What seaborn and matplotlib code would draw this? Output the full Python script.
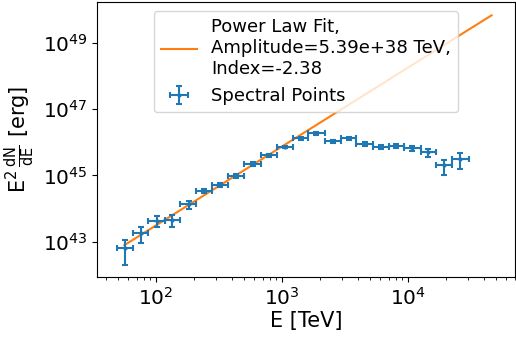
import seaborn as sns
import matplotlib.pyplot as plt
import pandas as pd
import numpy as np

# spectral points
energy = [56.6, 75.6, 101, 135, 181, 241, 323, 433, 583, 782, 1062, 1412,
          1877, 2528, 3390, 4540, 6110, 8070, 10820, 14500, 19300, 25900]
bin_edges = [49, 65.5, 87, 117, 156, 209, 279, 372, 500, 675, 910, 1230,
             1620, 2190, 2950, 3890, 5250, 7080, 9330, 12600, 16600, 22400, 30200]
e2dnde = [6.6e42, 1.78e43, 4.3e43, 4.5e43, 1.33e44, 3.4e44, 5.1e44, 9.8e44,
          2.2e45, 4.1e45, 7.3e45, 1.3e46, 1.85e46, 1.08e46, 1.3e46, 8.7e45,
          7.3e45, 7.8e45, 6.5e45, 4.9e45, 2.0e45, 3.1e45]
e2dnde_err = [4.6e42, 9e42, 1.5e43, 1.7e43, 3.5e43, 5e43, 7e43, 1.2e44,
              2.5e44, 4e44, 6e44, 1.2e45, 1.5e45, 1.2e45, 1.5e45, 1.2e45,
              1.1e45, 1e45, 1e45, 1.3e45, 1e45, 1.5e45]

amplitude = 5.39e38
index = -2.38
fit_range = [56, 46000]

plt.rcParams['font.size'] = 15
plt.rcParams['xtick.labelsize'] = 14.5
plt.rcParams['ytick.labelsize'] = 14.5

fig = plt.figure(figsize=(5.16, 3.4), dpi=100)
ax = fig.add_axes([0.188, 0.185, 0.81, 0.809])

e = np.array(energy)
edges = np.array(bin_edges)
xerr = [e - edges[:-1], edges[1:] - e]

fit_e = np.logspace(np.log10(fit_range[0]), np.log10(fit_range[1]), 100)
fit_df = pd.DataFrame({'E': fit_e, 'flux': amplitude * fit_e ** (-index)})
sns.lineplot(data=fit_df, x='E', y='flux', ax=ax, color='tab:orange',
             label='Power Law Fit,\nAmplitude=5.39e+38 TeV,\nIndex=-2.38')

ax.errorbar(energy, e2dnde, xerr=xerr, yerr=e2dnde_err, fmt='.', color='tab:blue',
            markersize=4, elinewidth=1.5, capsize=2.5, capthick=1.5,
            label='Spectral Points')

ax.set_xscale('log')
ax.set_yscale('log')
ax.set_xlim(34, 70600)
ax.set_ylim(10**41.93, 10**50.23)
ax.set_xlabel('E [TeV]', labelpad=2)
ax.set_ylabel(r'E$^2\,\frac{\mathrm{dN}}{\mathrm{dE}}$ [erg]')
ax.legend(loc='upper center', fontsize=13)

fig.savefig('out.png', dpi=100)
